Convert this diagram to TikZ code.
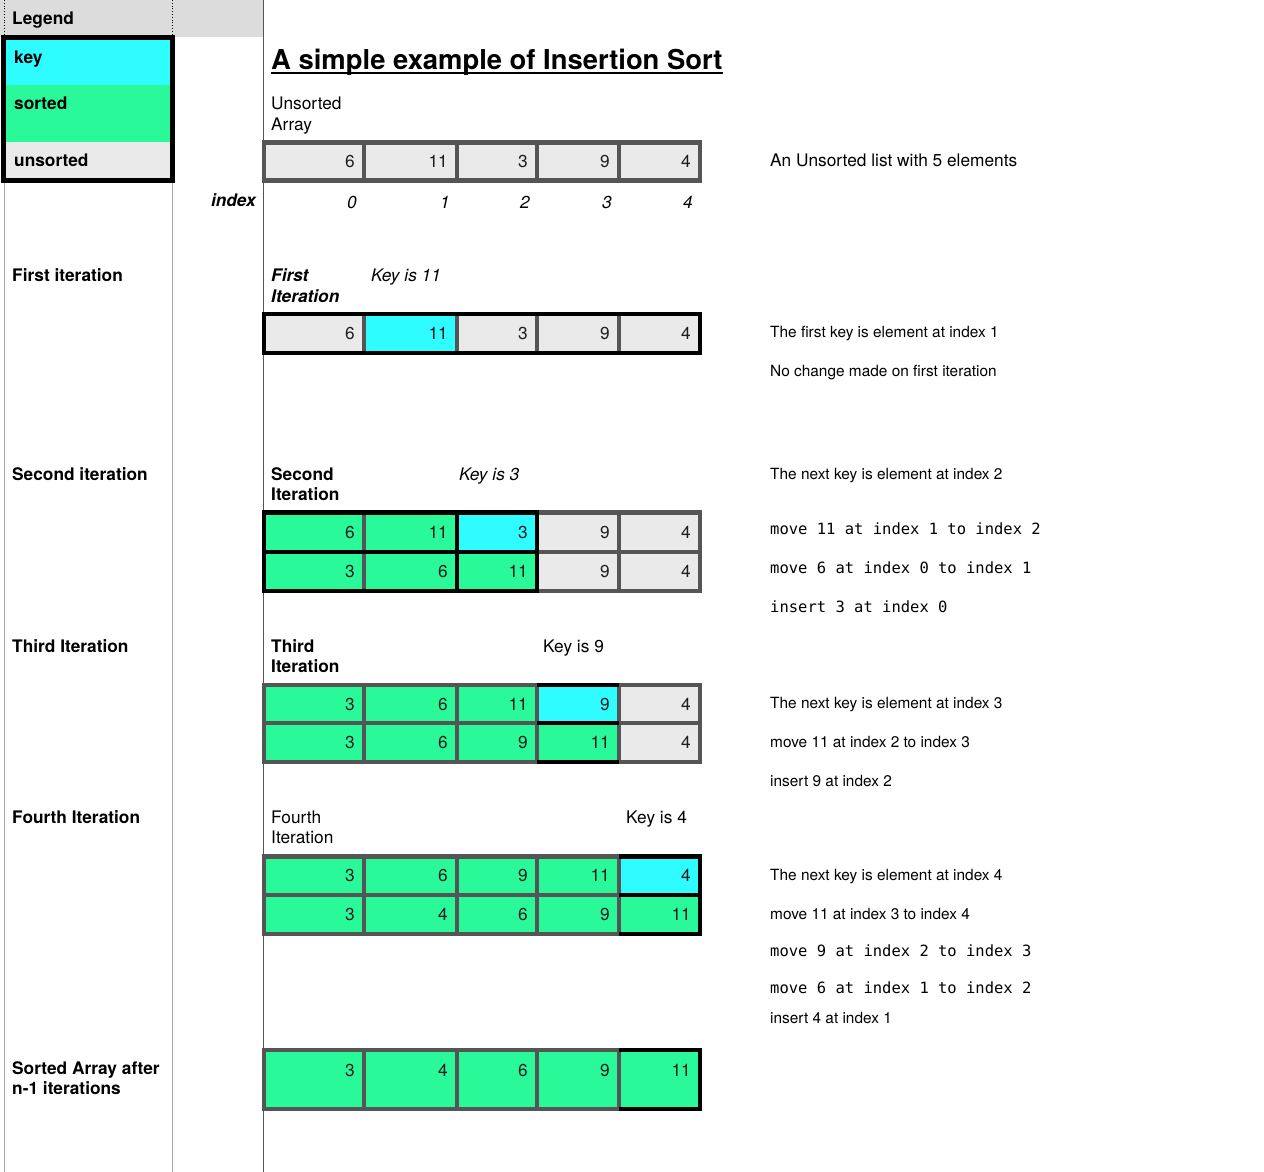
\documentclass[tikz,border=0pt]{standalone}
\usepackage{fontspec}
\setmainfont{TeX Gyre Heros}
\setmonofont{DejaVu Sans Mono}
\definecolor{cgray}{HTML}{EAEAEA}
\definecolor{ccyan}{HTML}{2EFCFF}
\definecolor{cgreen}{HTML}{2AF99A}
\definecolor{gline}{HTML}{555555}
\definecolor{hdr}{HTML}{DCDCDC}
\definecolor{numc}{HTML}{1E1E1E}
\definecolor{colline}{HTML}{A8A8A8}
\tikzset{
 lbl/.style={anchor=base west, inner sep=0pt, font=\fontsize{17.3}{20}\selectfont},
 lblb/.style={lbl, font=\fontsize{17.3}{20}\selectfont\bfseries},
 lbli/.style={lbl, font=\fontsize{17.3}{20}\selectfont\itshape},
 lblbi/.style={lbl, font=\fontsize{17.3}{20}\selectfont\bfseries\itshape},
 note/.style={lbl, font=\fontsize{15.4}{18}\selectfont},
 code/.style={lbl, font=\fontsize{15.5}{18}\selectfont\ttfamily},
 num/.style={anchor=base east, inner sep=0pt, font=\fontsize{17.3}{20}\selectfont, text=numc},
 idx/.style={anchor=base east, inner sep=0pt, font=\fontsize{17.3}{20}\selectfont\itshape},
 gridln/.style={draw=gline, line width=4.5pt},
 blk/.style={draw=black, line width=4.5pt},
}
\def\gx{{264,364,457,537,619,700}}
% #1 name, #2 top y, #3 bottom y, #4 baseline y, #5 list fill/number
\newcommand\cellrow[5]{%
  \foreach \f/\n [count=\i from 0] in {#5}{
    \pgfmathsetmacro\xa{\gx[\i]}
    \pgfmathsetmacro\xb{\gx[\i+1]}
    \fill[\f] (\xa,#2) rectangle (\xb,#3);
    \node[num] (#1-\i) at (\xb-9,#4) {\n};
  }
  \draw[gridln] (264,#2) rectangle (700,#3);
  \foreach \k in {1,...,4}{
    \pgfmathsetmacro\xa{\gx[\k]}
    \draw[gridln] (\xa,#2) -- (\xa,#3);
  }
}
\begin{document}
\begin{tikzpicture}[x=1pt,y=-1pt]
\useasboundingbox[fill=white] (0,0) rectangle (1264,1172);

% header and column rules
\fill[hdr] (0,0) rectangle (263,37);
\draw[dotted, line width=0.8pt] (4.5,0) -- (4.5,37);
\draw[dotted, line width=0.8pt] (172.5,0) -- (172.5,37);
\draw[colline, line width=1pt] (4.5,183) -- (4.5,1172);
\draw[colline, line width=1pt] (172.5,183) -- (172.5,1172);
\draw[gline, line width=1pt] (263,0) -- (263,1172);
\node[lblb] (legend) at (12,24.5) {Legend};

% legend box
\fill[ccyan] (3.5,37.5) rectangle (172.5,85);
\fill[cgreen] (3.5,85) rectangle (172.5,142);
\fill[cgray] (3.5,142) rectangle (172.5,180.5);
\draw[line width=5.5pt] (3.5,37.5) rectangle (172.5,180.5);
\node[lblb] (lkey) at (14,64) {key};
\node[lblb] (lsorted) at (14,109) {sorted};
\node[lblb] (lunsorted) at (14,166) {unsorted};

% title
\node[lbl, font=\fontsize{27.4}{32}\selectfont\bfseries] (title) at (271,69.5) {A simple example of Insertion Sort};
\draw[line width=2pt] ([yshift=-3.2pt]title.base west) -- ([yshift=-3.2pt]title.base east);

% unsorted array
\node[lbl] (unsA) at (271,109) {Unsorted};
\node[lbl] (unsB) at (271,130) {Array};
\cellrow{A}{142.5}{180.5}{167.5}{cgray/6,cgray/11,cgray/3,cgray/9,cgray/4}
\node[lbl] (nA) at (770,166) {An Unsorted list with 5 elements};
\node[idx, font=\fontsize{17.3}{20}\selectfont\bfseries\itshape] (index) at (256,206.5) {index};
\foreach \k [count=\i from 1] in {0,...,4}{
  \pgfmathsetmacro\xb{\gx[\i]}
  \node[idx] (idx\k) at (\xb-7,208) {\k};
}

% first iteration
\node[lblb] (it1) at (12,281) {First iteration};
\node[lblbi] (it1a) at (271,281.5) {First};
\node[lblbi] (it1b) at (271,302) {Iteration};
\node[lbli] (key1) at (371,281.5) {Key is 11};
\cellrow{B}{314}{353}{339.5}{cgray/6,ccyan/11,cgray/3,cgray/9,cgray/4}
\draw[blk] (264,314) rectangle (700,353);
\node[note] (nB1) at (770,337.5) {The first key is element at index 1};
\node[note] (nB2) at (770,376.5) {No change made on first iteration};

% second iteration
\node[lblb] (it2) at (12,480) {Second iteration};
\node[lblb] (it2a) at (271,480) {Second};
\node[lblb] (it2b) at (271,500.5) {Iteration};
\node[lbli] (key2) at (459,480) {Key is 3};
\cellrow{Ca}{512.5}{552}{538}{cgreen/6,cgreen/11,ccyan/3,cgray/9,cgray/4}
\cellrow{Cb}{552}{591}{577.5}{cgreen/3,cgreen/6,cgreen/11,cgray/9,cgray/4}
\draw[blk] (264,512.5) rectangle (537,591);
\draw[blk] (264,552) -- (537,552);
\draw[blk] (457,512.5) -- (457,591);
\node[note] (nC1) at (770,479.5) {The next key is element at index 2};
\node[code] (nC2) at (770,534.6) {move 11 at index 1 to index 2};
\node[code] (nC3) at (770,573.6) {move 6 at index 0 to index 1};
\node[code] (nC4) at (770,612.6) {insert 3 at index 0};

% third iteration
\node[lblb] (it3) at (12,652) {Third Iteration};
\node[lblb] (it3a) at (271,652) {Third};
\node[lblb] (it3b) at (271,672.5) {Iteration};
\node[lbl] (key3) at (543,652) {Key is 9};
\cellrow{Da}{685}{723}{710}{cgreen/3,cgreen/6,cgreen/11,ccyan/9,cgray/4}
\cellrow{Db}{723}{762}{748.5}{cgreen/3,cgreen/6,cgreen/9,cgreen/11,cgray/4}
\draw[blk] (537,685) -- (619,685);
\draw[blk] (537,723) -- (619,723);
\draw[blk] (537,762) -- (619,762);
\node[note] (nD1) at (770,708.5) {The next key is element at index 3};
\node[note] (nD2) at (770,747.5) {move 11 at index 2 to index 3};
\node[note] (nD3) at (770,786.5) {insert 9 at index 2};

% fourth iteration
\node[lblb] (it4) at (12,823) {Fourth Iteration};
\node[lbl] (it4a) at (271,823) {Fourth};
\node[lbl] (it4b) at (271,843.5) {Iteration};
\node[lbl] (key4) at (626,823) {Key is 4};
\cellrow{Ea}{856.5}{895}{881.75}{cgreen/3,cgreen/6,cgreen/9,cgreen/11,ccyan/4}
\cellrow{Eb}{895}{934}{920.5}{cgreen/3,cgreen/4,cgreen/6,cgreen/9,cgreen/11}
\draw[blk] (619,856.5) -- (700,856.5) -- (700,934) -- (619,934);
\draw[blk] (619,895) -- (700,895);
\node[note] (nE1) at (770,880.5) {The next key is element at index 4};
\node[note] (nE2) at (770,919.5) {move 11 at index 3 to index 4};
\node[code] (nE3) at (770,956.6) {move 9 at index 2 to index 3};
\node[code] (nE4) at (770,993.6) {move 6 at index 1 to index 2};
\node[note] (nE5) at (770,1023.5) {insert 4 at index 1};

% sorted array
\node[lblb] (fin1) at (12,1074.5) {Sorted Array after};
\node[lblb] (fin2) at (12,1094.5) {n-1 iterations};
\cellrow{F}{1050}{1109}{1076}{cgreen/3,cgreen/4,cgreen/6,cgreen/9,cgreen/11}
\draw[blk] (619,1050) -- (700,1050) -- (700,1109) -- (619,1109);
\end{tikzpicture}
\end{document}
